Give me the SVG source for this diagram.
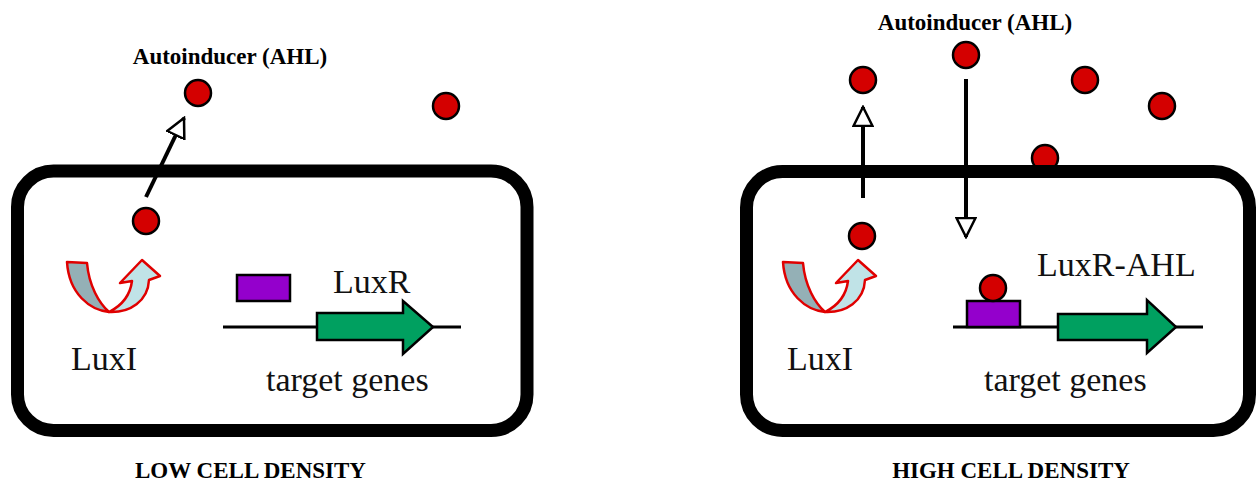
<svg xmlns="http://www.w3.org/2000/svg" width="1257" height="483" viewBox="0 0 1257 483">
  <style>
    .cell { fill: #ffffff; stroke: #000000; stroke-width: 13; }
    .ahl { fill: #d40000; stroke: #000000; stroke-width: 2.5; }
    .luxr { fill: #9400cc; stroke: #000000; stroke-width: 2.5; }
    .gene { fill: #00a060; stroke: #000000; stroke-width: 2.5; stroke-linejoin: miter; }
    .dna { stroke: #000000; stroke-width: 3; fill: none; }
    .flow { stroke: #000000; stroke-width: 4; fill: none; marker-end: url(#hollow); }
    .back { fill: #94b0b6; stroke: #e00000; stroke-width: 2.5; stroke-linejoin: round; }
    .front { fill: #c0e3e7; stroke: #e00000; stroke-width: 2.5; stroke-linejoin: round; }
    .lbl { font-family: "Liberation Serif", "Times New Roman", serif; font-size: 34px; fill: #111111; }
    .ttl { font-family: "Liberation Serif", "Times New Roman", serif; font-size: 23px; font-weight: bold; fill: #000000; }
  </style>
  <defs>
    <marker id="hollow" viewBox="0 0 22 22" refX="20" refY="11" markerWidth="22" markerHeight="22" markerUnits="userSpaceOnUse" orient="auto">
      <path d="M1,1.5 L20,11 L1,20.5 Z" fill="#ffffff" stroke="#000000" stroke-width="2.5" stroke-linejoin="miter"/>
    </marker>
    <!-- U-turn synthesis arrow used for LuxI -->
    <g id="uturn">
      <path class="back" d="M67,262 L87,263 C89,286 99,303 109,312 C90,310 69,294 67,262 Z"/>
      <path class="front" d="M109,312 C130,313 148,301 149,280 L160,276 L142,260 L120,283 L132,281 C130,297 121,306 109,312 Z"/>
    </g>
  </defs>

  <!-- Low density panel -->
  <g id="low-ahl-out">
    <circle class="ahl" cx="198" cy="93" r="13"/>
    <circle class="ahl" cx="446" cy="106" r="13"/>
  </g>
  <g id="low-cell">
    <rect class="cell" x="17.5" y="171" width="509.5" height="259.5" rx="36" ry="36"/>
  </g>
  <g id="low-ahl-in">
    <circle class="ahl" cx="146" cy="221" r="13"/>
  </g>
  <g id="low-luxi">
    <use href="#uturn"/>
    <text class="lbl" x="71" y="370" font-size="38.5">LuxI</text>
  </g>
  <g id="low-luxr">
    <rect class="luxr" x="237" y="275" width="53" height="26"/>
    <text class="lbl" x="333" y="293">LuxR</text>
  </g>
  <g id="low-genes">
    <line class="dna" x1="223" y1="327" x2="461" y2="327"/>
    <path class="gene" d="M317,313 L403,313 L403,301 L433,327 L403,354 L403,340 L317,340 Z"/>
    <text class="lbl" x="266" y="391">target genes</text>
  </g>
  <g id="low-title">
    <text class="ttl" x="230" y="64" text-anchor="middle">Autoinducer (AHL)</text>
    <text class="ttl" x="250.5" y="478" text-anchor="middle" font-size="23.5">LOW CELL DENSITY</text>
  </g>

  <!-- High density panel -->
  <g id="high-ahl-out">
    <circle class="ahl" cx="863" cy="80" r="13"/>
    <circle class="ahl" cx="966" cy="55" r="13"/>
    <circle class="ahl" cx="1085" cy="80" r="13"/>
    <circle class="ahl" cx="1162" cy="106" r="13"/>
    <circle class="ahl" cx="1045" cy="158" r="13"/>
  </g>
  <g id="high-cell">
    <rect class="cell" x="746.5" y="171.5" width="503" height="259" rx="36" ry="36"/>
  </g>
  <g id="high-ahl-in">
    <circle class="ahl" cx="862" cy="236" r="13"/>
  </g>
  <g id="high-luxi">
    <use href="#uturn" transform="translate(716,0)"/>
    <text class="lbl" x="787" y="370" font-size="38.5">LuxI</text>
  </g>
  <g id="high-genes">
    <line class="dna" x1="953" y1="327" x2="1203" y2="327"/>
    <rect class="luxr" x="967" y="301" width="53" height="26"/>
    <circle class="ahl" cx="993" cy="288" r="13"/>
    <path class="gene" d="M1058,314 L1147,314 L1147,300 L1176,327 L1147,353 L1147,340 L1058,340 Z"/>
    <text class="lbl" x="1037" y="276">LuxR-AHL</text>
    <text class="lbl" x="984" y="391">target genes</text>
  </g>
  <g id="high-title">
    <text class="ttl" x="975" y="30" text-anchor="middle">Autoinducer (AHL)</text>
    <text class="ttl" x="1011" y="478" text-anchor="middle" font-size="23.5">HIGH CELL DENSITY</text>
  </g>

  <!-- Transport arrows across the membrane -->
  <g id="connectors">
    <line class="flow" x1="146" y1="197" x2="184" y2="118"/>
    <line class="flow" x1="863" y1="198" x2="863" y2="107"/>
    <line class="flow" x1="966" y1="79" x2="966" y2="237"/>
  </g>
</svg>
